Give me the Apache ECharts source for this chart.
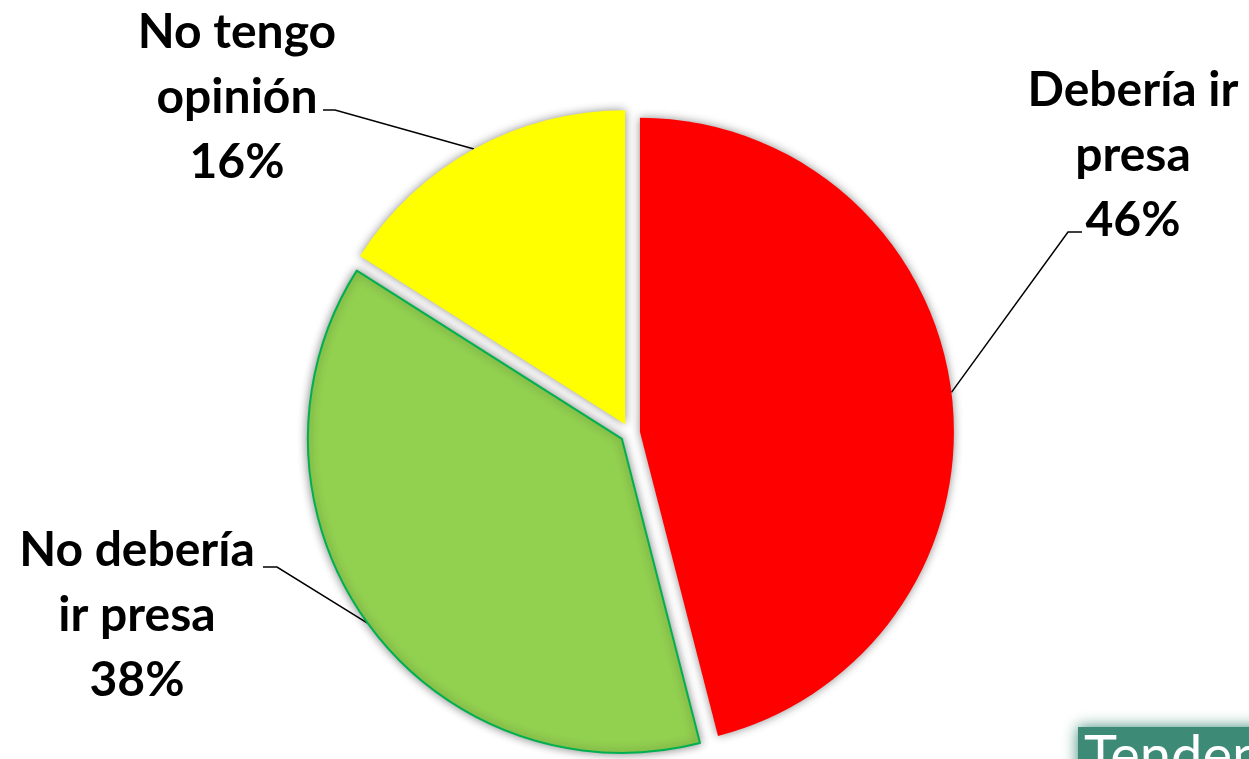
<!DOCTYPE html>
<html>
<head>
<meta charset="utf-8">
<script src="https://cdn.jsdelivr.net/npm/echarts@6/dist/echarts.min.js"></script>
<style>
html,body{margin:0;padding:0;background:#ffffff;}
#chart{width:1249px;height:759px;}
</style>
</head>
<body>
<div id="chart"></div>
<script>
// ---- data ----
const categories = ['Debería ir\npresa', 'No debería\nir presa', 'No tengo\nopinión'];
const values = [46, 38, 16];
const sliceColors = ['#FF0000', '#92D050', '#FFFF00'];
const sliceBorders = ['#FF0000', '#00B050', '#FFFF00'];
const sliceBorderWidths = [0, 2, 0];

// ---- layout (positions only, not data) ----
const pieCenter = [630, 433];
const pieRadius = 314;
const explode = 10;
// label block centre, and leader line bend / end relative to that centre
const labelPlacement = [
  { x: 1133, y: 156, bend: [-65, 76], end: [-51, 76] },
  { x: 137,  y: 616, bend: [140, -49], end: [126, -49] },
  { x: 237,  y: 98,  bend: [98, 12],  end: [86, 12] }
];

const chart = echarts.init(document.getElementById('chart'), null, { renderer: 'canvas' });

function sliceStyle(i) {
  return {
    color: sliceColors[i],
    borderColor: sliceBorders[i],
    borderWidth: sliceBorderWidths[i],
    shadowBlur: 10,
    shadowColor: 'rgba(0,0,0,0.45)'
  };
}

const sliceData = categories.map((name, i) => ({
  name: name,
  value: values[i],
  selected: true,
  itemStyle: sliceStyle(i),
  select: { itemStyle: sliceStyle(i) }
}));

const labelData = categories.map((name, i) => ({
  name: name,
  value: values[i],
  itemStyle: { color: 'rgba(0,0,0,0)', borderWidth: 0 }
}));

chart.setOption({
  animation: false,
  backgroundColor: '#ffffff',
  title: {
    text: 'Tendencias',
    left: 1078,
    top: 727,
    padding: [2, 6, 2, 6],
    backgroundColor: '#3d8a77',
    shadowBlur: 14,
    shadowColor: '#3d8a77',
    textStyle: {
      color: '#ffffff',
      fontFamily: 'Lato',
      fontWeight: 'normal',
      fontSize: 56
    }
  },
  series: [{
    // slices + leader lines
    type: 'pie',
    center: pieCenter,
    radius: pieRadius,
    startAngle: 90,
    clockwise: true,
    selectedMode: 'multiple',
    selectedOffset: explode,
    avoidLabelOverlap: false,
    silent: true,
    emphasis: { disabled: true },
    label: {
      show: true,
      position: 'outside',
      formatter: ' ',
      fontSize: 10
    },
    labelLine: {
      show: true,
      length: 20,
      length2: 10,
      lineStyle: { color: '#000000', width: 1.5 }
    },
    labelLayout: function (params) {
      const p = labelPlacement[params.dataIndex];
      const a = params.labelLinePoints[0];
      const vx = a[0] - pieCenter[0], vy = a[1] - pieCenter[1];
      const len = Math.sqrt(vx * vx + vy * vy) || 1;
      const ox = vx / len * explode, oy = vy / len * explode;
      return {
        labelLinePoints: [
          [a[0], a[1]],
          [p.x + p.bend[0] - ox, p.y + p.bend[1] - oy],
          [p.x + p.end[0] - ox, p.y + p.end[1] - oy]
        ]
      };
    },
    data: sliceData
  }, {
    // label texts
    type: 'pie',
    center: pieCenter,
    radius: pieRadius,
    startAngle: 90,
    clockwise: true,
    selectedMode: false,
    avoidLabelOverlap: false,
    silent: true,
    emphasis: { disabled: true },
    z: 3,
    label: {
      show: true,
      position: 'outside',
      formatter: function (p) { return p.name + '\n' + p.value + '%'; },
      fontFamily: 'Lato',
      fontWeight: 'bold',
      fontSize: 48,
      lineHeight: 65,
      color: '#000000',
      align: 'center'
    },
    labelLine: { show: false },
    labelLayout: function (params) {
      const p = labelPlacement[params.dataIndex];
      return { x: p.x, y: p.y, align: 'center', verticalAlign: 'middle' };
    },
    data: labelData
  }]
});
</script>
</body>
</html>
